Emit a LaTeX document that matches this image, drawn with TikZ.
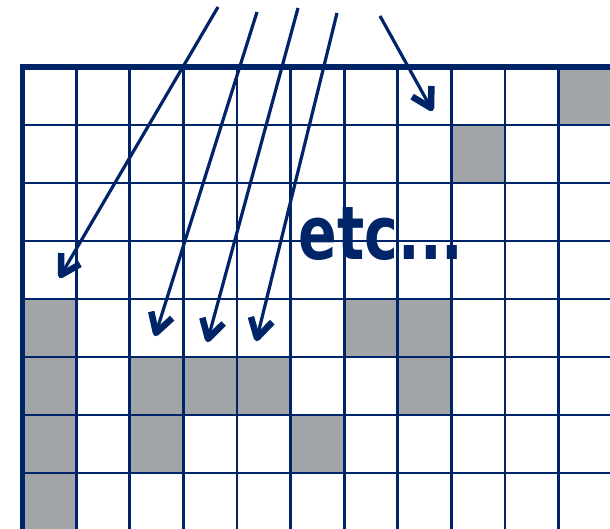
\documentclass[tikz,border=0pt]{standalone}
\usepackage{fontspec}
\newfontfamily\etcfont{DejaVu Sans}
\usetikzlibrary{calc}
\definecolor{navy}{RGB}{0,36,104}
\definecolor{cellgrey}{RGB}{162,165,168}
\tikzset{
  gridline/.style={draw=navy, line width=2.8pt},
  border/.style={draw=navy, line width=5.5pt},
  filled/.style={fill=cellgrey},
  pointer/.style={draw=navy, line width=3.2pt},
  barb/.style={draw=navy, line width=6.5pt, line join=round, line cap=butt},
}
\begin{document}
\begin{tikzpicture}[x=1pt,y=-1pt]
\useasboundingbox (0,0) rectangle (610,529);
\begin{scope}
\clip (0,0) rectangle (610,529);
% grey cells: (col,row)
\foreach \c/\r in {10/0, 8/1, 0/4, 6/4, 7/4, 0/5, 2/5, 3/5, 4/5, 7/5, 0/6, 2/6, 5/6, 0/7}{
  \fill[filled] ({22.5+53.6*\c},{67+58*\r}) rectangle ++(53.6,58);
}
% vertical lines
\foreach \c in {1,...,11}{
  \draw[gridline] ({22.5+53.6*\c},67) -- ({22.5+53.6*\c},540);
}
% horizontal lines
\foreach \r in {1,...,8}{
  \draw[gridline] (22.5,{67+58*\r}) -- (620,{67+58*\r});
}
\draw[border] (22.5,540) -- (22.5,67) -- (620,67);
\end{scope}
\node[anchor=base, text=navy, inner sep=0pt] (etc) at (381,260)
  {\scalebox{0.77}[1]{\etcfont\bfseries\fontsize{74}{74}\selectfont etc...}};
\coordinate (s1) at (218,7);   \coordinate (t1) at (61,275);
\coordinate (s2) at (257,12);  \coordinate (t2) at (156,333);
\coordinate (s3) at (298,8);   \coordinate (t3) at (208,339);
\coordinate (s4) at (337,13);  \coordinate (t4) at (257,338);
\coordinate (s5) at (380,16);  \coordinate (t5) at (431,108);
\foreach \i in {1,...,5}{
  \draw[pointer] (s\i) -- ($(t\i)!3pt!(s\i)$);
  \draw[barb] ($(t\i)!22pt!30:(s\i)$) -- (t\i) -- ($(t\i)!22pt!-30:(s\i)$);
}
\end{tikzpicture}
\end{document}
